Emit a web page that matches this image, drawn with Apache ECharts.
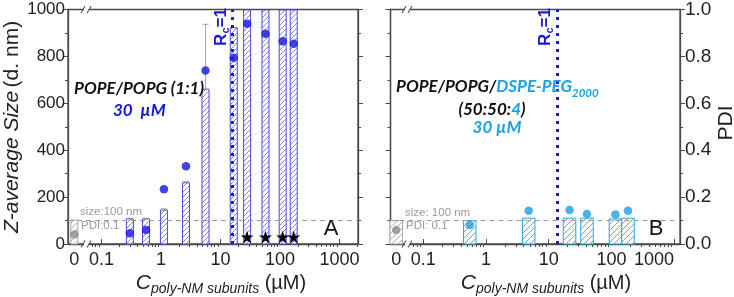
<!DOCTYPE html>
<html><head><meta charset="utf-8">
<script src="https://cdn.jsdelivr.net/npm/echarts@6/dist/echarts.min.js"></script>
<style>html,body{margin:0;padding:0;background:#fff}#c{width:734px;height:297px}</style>
</head><body><div id="c"></div>
<script>
// ---------- DATA ----------
// Panel A: POPE/POPG (1:1), 30 µM
const concA   = [0, 0.30, 0.56, 1.12, 2.63, 5.6, 16.7, 28, 57, 111, 170];      // µM (0 = no polymer)
const sizeA   = [102, 107, 107, 145, 261, 660, 922, 1300, 1300, 1300, 1300];    // Z-average size, d.nm (last 4 off scale)
const sizeErrA= [0, 3, 3, 5, 5, 277, 0, 0, 0, 0, 0];
const pdiA    = [0.041, 0.046, 0.060, 0.233, 0.332, 0.740, 0.794, 0.939, 0.897, 0.865, 0.854];
const starA   = [28, 57, 111, 170];          // aggregated samples (marked with stars)
const rcA     = 15.9;                        // Rc = 1

// Panel B: POPE/POPG/DSPE-PEG2000 (50:50:4), 30 µM
const concB   = [0, 0.55, 4.8, 21.5, 40.8, 116, 184];
const sizeB   = [100, 100, 110, 110, 110, 107, 110];
const pdiB    = [0.060, 0.081, 0.142, 0.145, 0.128, 0.126, 0.142];
const rcB     = 13.5;

const sizeTicks = [0, 200, 400, 600, 800, 1000];
const pdiTicks  = [0, 0.2, 0.4, 0.6, 0.8, 1.0];
const xTickLabels = [0, 0.1, 1, 10, 100, 1000];
const refSize = 100, refPDI = 0.1;
const STAR_LEVEL = 30;

// ---------- layout constants ----------
const ZERO_A = 0.035, ZERO_B = 0.037, BREAK_AT = 0.056;
const A_MIN = 0.02735, A_MAX = 2046, B_MIN = 0.0300, B_MAX = 1242;
const minorVals = [];
[0.01, 0.1, 1, 10, 100, 1000].forEach(d => { for (let k = 2; k <= 9; k++) { const v = +(d * k).toPrecision(3); if (v > 0.055) minorVals.push(v); } });

function hatch(color, s) {
  const c = document.createElement('canvas'); c.width = c.height = s;
  const g = c.getContext('2d'); g.fillStyle = '#fff'; g.fillRect(0, 0, s, s);
  g.strokeStyle = color; g.lineWidth = 1; g.beginPath();
  for (const k of [-s, 0, s]) { g.moveTo(k, s); g.lineTo(k + s, 0); }
  g.stroke(); return c;
}
const patA = { image: hatch('#8585e8', 5), repeat: 'repeat' };
const patB = { image: hatch('#4bb6e6', 6), repeat: 'repeat' };
const patG = { image: hatch('#b0b0b0', 6), repeat: 'repeat' };

const BLUE = '#1414e0', CYAN = '#1aa0e6', GRAY = '#8a8a8a';

function barRenderer(pat, stroke, w) {
  return function (params, api) {
    const x = api.value(0), v = api.value(1), err = api.value(2), zero = api.value(3);
    const cs = params.coordSys;
    const b = api.coord([x, 0]), t = api.coord([x, v]);
    const yTop = Math.max(t[1], cs.y + 0.5);
    const children = [{
      type: 'rect',
      shape: { x: b[0] - w / 2, y: yTop, width: w, height: b[1] - yTop },
      style: { fill: zero ? patG : pat, stroke: zero ? '#a8a8a8' : stroke, lineWidth: 1 }
    }];
    if (err > 0) {
      const e = api.coord([x, v + err]);
      children.push({ type: 'line', shape: { x1: t[0], y1: t[1], x2: e[0], y2: e[1] }, style: { stroke: '#8c8c8c', lineWidth: 0.8 } });
      children.push({ type: 'line', shape: { x1: e[0] - 3, y1: e[1], x2: e[0] + 3, y2: e[1] }, style: { stroke: '#8c8c8c', lineWidth: 0.8 } });
    }
    return { type: 'group', children };
  };
}

const lblFmt = v => (v < 0.05 ? '0' : v < 0.5 ? '0.1' : String(Math.round(v)));
const axisCol = '#4a4a4a';
function mainX(grid, min, max, zero, alignMax) {
  return {
    gridIndex: grid, type: 'log', min, max, logBase: 10,
    axisLine: { show: true, lineStyle: { color: axisCol, width: 1.3 } },
    axisTick: { show: true, inside: true, length: 5, customValues: [0.1, 1, 10, 100, 1000], lineStyle: { color: axisCol } },
    axisLabel: { customValues: [zero, 0.1, 1, 10, 100, 1000], formatter: lblFmt, fontSize: 18, fontFamily: 'Liberation Sans', color: '#222', margin: 7, alignMaxLabel: alignMax },
    splitLine: { show: false }
  };
}
function minorX(grid, min, max) {
  return {
    gridIndex: grid, type: 'log', min, max, logBase: 10,
    axisLine: { show: false },
    axisTick: { show: true, inside: true, length: 3, customValues: minorVals, lineStyle: { color: axisCol } },
    axisLabel: { show: false }, splitLine: { show: false }
  };
}
function yAx(grid, pos, max, interval, showLabel, fs, fmt) {
  return {
    gridIndex: grid, type: 'value', position: pos, min: 0, max, interval,
    axisLine: { show: true, lineStyle: { color: axisCol, width: 1.3 } },
    axisTick: { show: true, inside: false, length: 5, lineStyle: { color: axisCol } },
    minorTick: { show: true, splitNumber: 2, length: 3, lineStyle: { color: axisCol } },
    axisLabel: { show: showLabel, fontSize: fs, fontFamily: 'Liberation Sans', color: '#222', margin: pos === 'left' ? 3 : 5, formatter: fmt },
    splitLine: { show: false }
  };
}

const zeroMap = (c, z) => (c === 0 ? z : c);
const barDataA = concA.map((c, i) => [zeroMap(c, ZERO_A), sizeA[i], sizeErrA[i], c === 0 ? 1 : 0]);
const barDataB = concB.map((c, i) => [zeroMap(c, ZERO_B), sizeB[i], 0, c === 0 ? 1 : 0]);
const dotDataA = concA.map((c, i) => ({ value: [zeroMap(c, ZERO_A), pdiA[i]], itemStyle: { color: c === 0 ? GRAY : BLUE } }));
const dotDataB = concB.map((c, i) => ({ value: [zeroMap(c, ZERO_B), pdiB[i]], itemStyle: { color: c === 0 ? GRAY : CYAN } }));

const STAR = 'path://M50,0 L61,35 L98,35 L68,57 L79,91 L50,70 L21,91 L32,57 L2,35 L39,35 Z';

function markLines(rc) {
  return {
    silent: true, symbol: 'none', label: { show: false }, animation: false,
    data: [
      { yAxis: refPDI, lineStyle: { color: '#9a9a9a', width: 1, type: [5, 4] } },
      { xAxis: rc, lineStyle: { color: '#1a1ad0', width: 3, type: [3, 5] } }
    ]
  };
}

const chart = echarts.init(document.getElementById('c'), null, { renderer: 'canvas' });
const option = {
  animation: false,
  grid: [
    { left: 68, top: 9.5, width: 290, height: 234.5, show: true, borderColor: axisCol, borderWidth: 1.3 },
    { left: 390.5, top: 9.5, width: 289.5, height: 234.5, show: true, borderColor: axisCol, borderWidth: 1.3 }
  ],
  xAxis: [mainX(0, A_MIN, A_MAX, ZERO_A, null), minorX(0, A_MIN, A_MAX), mainX(1, B_MIN, B_MAX, ZERO_B, 'right'), minorX(1, B_MIN, B_MAX)],
  yAxis: [
    yAx(0, 'left', 1000, 200, true, 17, v => String(v)),
    yAx(0, 'right', 1, 0.2, false, 17),
    yAx(1, 'left', 1000, 200, false, 17),
    yAx(1, 'right', 1, 0.2, true, 19, v => v.toFixed(1))
  ],
  series: [
    { type: 'custom', xAxisIndex: 0, yAxisIndex: 0, data: barDataA, renderItem: barRenderer(patA, '#4b4bd8', 7), z: 2 },
    { type: 'scatter', xAxisIndex: 0, yAxisIndex: 1, data: dotDataA, symbolSize: 8.5, z: 4, markLine: markLines(rcA) },
    { type: 'scatter', xAxisIndex: 0, yAxisIndex: 0, data: starA.map(c => [c, STAR_LEVEL]), symbol: STAR, symbolSize: 13, itemStyle: { color: '#000', opacity: 1 }, z: 5 },
    { type: 'custom', xAxisIndex: 2, yAxisIndex: 2, data: barDataB, renderItem: barRenderer(patB, '#2aa8e0', 12.5), z: 2 },
    { type: 'scatter', xAxisIndex: 2, yAxisIndex: 3, data: dotDataB, symbolSize: 8.5, z: 4, markLine: markLines(rcB) }
  ]
};
chart.setOption(option);

// ---------- annotations ----------
const LATO = 'Lato, "Open Sans", sans-serif';
const AR = '"Liberation Sans", Arial, sans-serif';
function txt(x, y, text, rich, extra) {
  return Object.assign({ type: 'text', x, y, z: 50, silent: true,
    style: Object.assign({ text, rich, align: 'left', verticalAlign: 'middle' }, extra || {}) });
}
const bi = (fill, size) => ({ fill, fontSize: size, fontFamily: LATO, fontStyle: 'italic', fontWeight: 'bold' });

const g = [];
// break marks
[[0, 0], [2, 2]].forEach(([xi, yi]) => {
  const bx = chart.convertToPixel({ xAxisIndex: xi }, BREAK_AT);
  const yb = chart.convertToPixel({ yAxisIndex: yi }, 0);
  const yt = chart.convertToPixel({ yAxisIndex: yi }, 1000);
  [yb, yt].forEach(yy => {
    g.push({ type: 'rect', z: 60, silent: true, shape: { x: bx - 2.5, y: yy - 3, width: 5, height: 6 }, style: { fill: '#fff' } });
    g.push({ type: 'line', z: 61, silent: true, shape: { x1: bx - 5.5, y1: yy + 3.5, x2: bx - 1.5, y2: yy - 3.5 }, style: { stroke: '#555', lineWidth: 1.1 } });
    g.push({ type: 'line', z: 61, silent: true, shape: { x1: bx + 0.5, y1: yy + 3.5, x2: bx + 4.5, y2: yy - 3.5 }, style: { stroke: '#555', lineWidth: 1.1 } });
  });
});
// Rc = 1 labels
[[0, rcA], [2, rcB]].forEach(([xi, rc]) => {
  const px = chart.convertToPixel({ xAxisIndex: xi }, rc);
  g.push({ type: 'text', x: px - 11.5, y: 27, rotation: Math.PI / 2, z: 50, silent: true,
    style: { text: '{r|R}{s|c}{r|=1}', align: 'center', verticalAlign: 'middle',
      rich: { r: { fill: '#1a1ad0', fontSize: 17, fontFamily: AR, fontWeight: 'bold', lineHeight: 20, verticalAlign: 'middle' },
              s: { fill: '#1a1ad0', fontSize: 11, fontFamily: AR, fontWeight: 'bold', lineHeight: 20, verticalAlign: 'bottom' } } } });
});
// reference line labels
g.push(txt(80, 212, 'size:100 nm', null, { fill: '#9a9a9a', fontSize: 11.5, fontFamily: AR }));
g.push(txt(81, 226, 'PDI:0.1', null, { fill: '#9a9a9a', fontSize: 11.5, fontFamily: AR }));
g.push(txt(405, 213, 'size: 100 nm', null, { fill: '#9a9a9a', fontSize: 11.5, fontFamily: AR }));
g.push(txt(406, 226, 'PDI: 0.1', null, { fill: '#9a9a9a', fontSize: 11.5, fontFamily: AR }));
// panel letters
g.push(txt(331, 229, 'A', null, { fill: '#111', fontSize: 22, fontFamily: AR, align: 'center' }));
g.push(txt(656, 229, 'B', null, { fill: '#111', fontSize: 22, fontFamily: AR, align: 'center' }));
// sample labels
g.push(txt(74, 89, '{k|POPE/POPG (1:1)}', { k: bi('#111', 17) }));
g.push(txt(113, 111, '{b|30  µM}', { b: bi(BLUE, 17) }));
g.push(txt(396, 87, '{k|POPE/POPG/}{c|DSPE-PEG}{s|2000}', {
  k: Object.assign(bi('#111', 17), { lineHeight: 24, verticalAlign: 'middle' }),
  c: Object.assign(bi(CYAN, 17), { lineHeight: 24, verticalAlign: 'middle' }),
  s: Object.assign(bi(CYAN, 11.5), { lineHeight: 24, verticalAlign: 'bottom' }) }));
g.push(txt(492, 110, '{k|(50:50:}{c|4}{k|)}', { k: bi('#111', 17), c: bi(CYAN, 17) }, { align: 'center' }));
g.push(txt(497, 128, '{c|30 µM}', { c: bi(CYAN, 17) }, { align: 'center' }));
// axis titles
g.push({ type: 'text', x: 12, y: 127, rotation: Math.PI / 2, z: 50, silent: true,
  style: { text: '{i|Z-average Size} {n|(d. nm)}', align: 'center', verticalAlign: 'middle',
    rich: { i: { fill: '#222', fontSize: 21, fontFamily: AR, fontStyle: 'italic' }, n: { fill: '#222', fontSize: 21, fontFamily: AR } } } });
g.push({ type: 'text', x: 726, y: 123, rotation: Math.PI / 2, z: 50, silent: true,
  style: { text: 'PDI', align: 'center', verticalAlign: 'middle', fill: '#222', fontSize: 21, fontFamily: AR } });
const xTitleRich = {
  c: { fill: '#222', fontSize: 21, fontFamily: AR, fontStyle: 'italic', lineHeight: 26, verticalAlign: 'middle' },
  s: { fill: '#222', fontSize: 14, fontFamily: AR, fontStyle: 'italic', lineHeight: 26, verticalAlign: 'bottom' },
  n: { fill: '#222', fontSize: 20, fontFamily: AR, lineHeight: 26, verticalAlign: 'middle' }
};
g.push(txt(221, 283, '{c|C}{s|poly-NM subunits}{n| (µM)}', xTitleRich, { align: 'center' }));
g.push(txt(546, 283, '{c|C}{s|poly-NM subunits}{n| (µM)}', xTitleRich, { align: 'center' }));

chart.setOption({ graphic: g });
</script>
</body></html>
